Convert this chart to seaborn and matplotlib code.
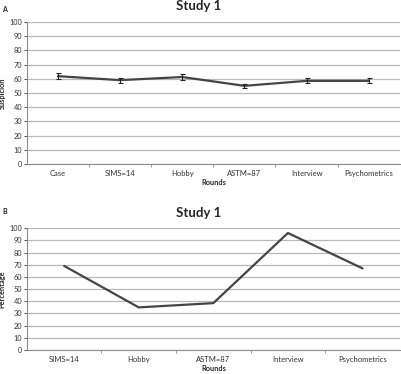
import numpy as np
import pandas as pd
import seaborn as sns
import matplotlib.pyplot as plt

# Panel A: mean suspicion per round
rounds_a = ["Case", "SIMS=14", "Hobby", "ASTM=87", "Interview", "Psychometrics"]
suspicion = [61.8, 59.0, 61.2, 55.0, 58.5, 58.5]
suspicion_err = [2.0, 1.8, 1.8, 1.6, 1.8, 1.8]

# Panel B: percentage per round
rounds_b = ["SIMS=14", "Hobby", "ASTM=87", "Interview", "Psychometrics"]
percentage = [69.0, 35.0, 38.5, 96.0, 67.0]

sns.set_style("white")
plt.rcParams['font.family'] = ['Lato', 'DejaVu Sans']

LINE = "#454545"
GRID = "#b8b8b8"
AX = "#8c8c8c"


def style_axes(ax, n, ylabel):
    ax.set_ylim(0, 100)
    ax.set_yticks(range(0, 101, 10))
    ax.set_xlim(-0.5, n - 0.5)
    ax.yaxis.grid(True, color=GRID, linewidth=0.9)
    ax.set_axisbelow(True)
    for s in ["top", "right"]:
        ax.spines[s].set_visible(False)
    for s in ["left", "bottom"]:
        ax.spines[s].set_color(AX)
        ax.spines[s].set_linewidth(0.8)
    ax.tick_params(axis="y", labelsize=5.3, colors="#333333", length=2,
                   width=0.6, pad=1.5, left=True)
    ax.tick_params(axis="x", which="major", length=0, labelsize=5.5,
                   colors="#333333", pad=4)
    ax.set_xticks(np.arange(0.5, n - 0.5), minor=True)
    ax.tick_params(axis="x", which="minor", length=2, width=0.6,
                   color=AX, bottom=True)
    ax.set_xlabel("Rounds", fontsize=5.3, fontweight="bold", labelpad=2)
    ax.set_ylabel(ylabel, fontsize=5.3, fontweight="bold")
    ax.yaxis.set_label_coords(-0.057, 0.5)


fig = plt.figure(figsize=(4.01, 3.74), dpi=100)

ax1 = fig.add_axes([0.067, 0.5615, 0.93, 0.380])
df_a = pd.DataFrame({"round": rounds_a, "value": suspicion})
sns.lineplot(data=df_a, x="round", y="value", sort=False, color=LINE,
             linewidth=1.6, ax=ax1)
ax1.errorbar(range(len(rounds_a)), suspicion, yerr=suspicion_err, fmt="none",
             ecolor="#222222", elinewidth=0.8, capsize=1.8, capthick=0.8)
style_axes(ax1, len(rounds_a), "Suspicion")
fig.text(0.495, 0.983, "Study 1", fontsize=9.5, fontweight="bold",
         ha="center", va="center")
fig.text(0.005, 0.985, "A", fontsize=5, fontweight="bold", va="top")

ax2 = fig.add_axes([0.067, 0.064, 0.93, 0.326])
df_b = pd.DataFrame({"round": rounds_b, "value": percentage})
sns.lineplot(data=df_b, x="round", y="value", sort=False, color=LINE,
             linewidth=1.6, ax=ax2)
style_axes(ax2, len(rounds_b), "Percentage")
fig.text(0.495, 0.430, "Study 1", fontsize=9.5, fontweight="bold",
         ha="center", va="center")
fig.text(0.005, 0.445, "B", fontsize=5, fontweight="bold", va="top")

fig.savefig("out.png", dpi=100)
